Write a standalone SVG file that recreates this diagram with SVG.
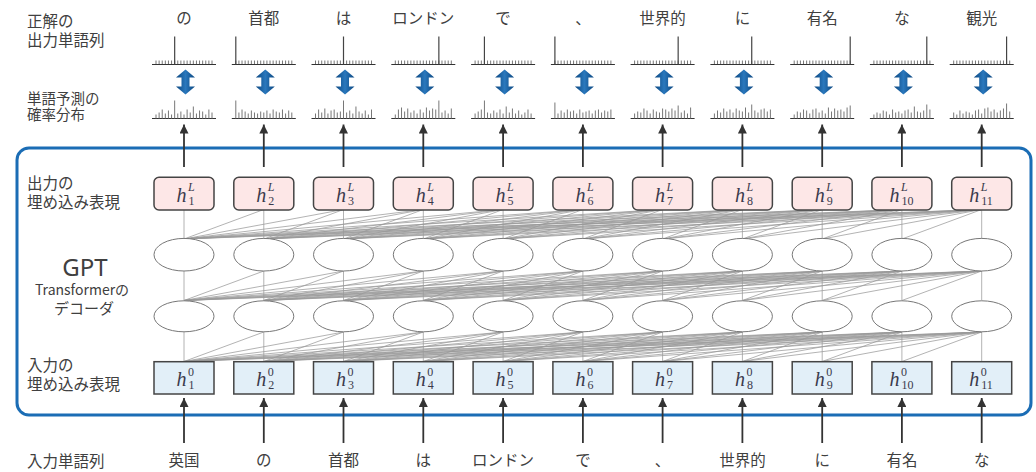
<svg xmlns="http://www.w3.org/2000/svg" xmlns:xlink="http://www.w3.org/1999/xlink" width="1036" height="472" viewBox="0 0 1036 472">
<style>
.lbl{font-family:"Noto Sans CJK JP","Noto Sans",sans-serif;font-size:15.5px;fill:#404040}
.lbs{font-family:"Noto Sans CJK JP","Noto Sans",sans-serif;font-size:14.5px;fill:#404040}
.w{font-family:"Noto Sans CJK JP","Noto Sans",sans-serif;font-size:15.5px;fill:#404040;text-anchor:middle}
.hv{font-family:"Liberation Serif",serif;font-style:italic;font-size:20px;fill:#3a3a4c}
.sc{font-family:"Liberation Serif",serif;font-style:normal;font-size:12px;fill:#3a3a4c}
.sci{font-family:"Liberation Serif",serif;font-style:italic;font-size:12px;fill:#3a3a4c}
.bo{fill:#fde7e7;stroke:#444;stroke-width:1.5}
.bi{fill:#e2eff8;stroke:#444;stroke-width:1.5}
.el{fill:#fff;stroke:#777;stroke-width:1}
.ar{stroke:#333;stroke-width:1.8;fill:none;marker-end:url(#ah)}
.tk{stroke:#777;stroke-width:1;fill:none}
.sp{stroke:#444;stroke-width:1.2}
.bl{stroke:#333;stroke-width:1.2}
.fan{stroke:#999;stroke-width:0.75;fill:none}
</style>
<defs>
<marker id="ah" markerUnits="userSpaceOnUse" markerWidth="9" markerHeight="9" viewBox="0 0 10 10" refX="10" refY="5" orient="auto"><path d="M0 0L10 5L0 10z" fill="#333"/></marker>
<linearGradient id="dg" x1="0" y1="0" x2="1" y2="0"><stop offset="0" stop-color="#0b467f"/><stop offset="0.5" stop-color="#2a78bd"/><stop offset="1" stop-color="#0b467f"/></linearGradient>
<polygon id="dbl" points="0,-12.5 9.5,-4.5 4,-4.5 4,4.5 9.5,4.5 0,12.5 -9.5,4.5 -4,4.5 -4,-4.5 -9.5,-4.5" fill="url(#dg)"/>
<path id="ticks" class="tk" d="M-28 0v-4M-24.89 0v-4M-21.78 0v-4M-18.67 0v-4M-15.56 0v-4M-12.44 0v-4M-9.33 0v-4M-6.22 0v-4M-3.11 0v-4M0 0v-4M3.11 0v-4M6.22 0v-4M9.33 0v-4M12.44 0v-4M15.56 0v-4M18.67 0v-4M21.78 0v-4M24.89 0v-4M28 0v-4"/>
<path id="base" class="bl" d="M-32 0h64"/>
<path id="fanp" class="fan" d="M184 0V29.5M263.8 0L184 29.5M263.8 0V29.5M343.5 0L184 29.5M343.5 0L263.8 29.5M343.5 0V29.5M423.3 0L184 29.5M423.3 0L263.8 29.5M423.3 0L343.5 29.5M423.3 0V29.5M503.1 0L184 29.5M503.1 0L263.8 29.5M503.1 0L343.5 29.5M503.1 0L423.3 29.5M503.1 0V29.5M582.9 0L184 29.5M582.9 0L263.8 29.5M582.9 0L343.5 29.5M582.9 0L423.3 29.5M582.9 0L503.1 29.5M582.9 0V29.5M662.6 0L184 29.5M662.6 0L263.8 29.5M662.6 0L343.5 29.5M662.6 0L423.3 29.5M662.6 0L503.1 29.5M662.6 0L582.9 29.5M662.6 0V29.5M742.4 0L184 29.5M742.4 0L263.8 29.5M742.4 0L343.5 29.5M742.4 0L423.3 29.5M742.4 0L503.1 29.5M742.4 0L582.9 29.5M742.4 0L662.6 29.5M742.4 0V29.5M822.2 0L184 29.5M822.2 0L263.8 29.5M822.2 0L343.5 29.5M822.2 0L423.3 29.5M822.2 0L503.1 29.5M822.2 0L582.9 29.5M822.2 0L662.6 29.5M822.2 0L742.4 29.5M822.2 0V29.5M901.9 0L184 29.5M901.9 0L263.8 29.5M901.9 0L343.5 29.5M901.9 0L423.3 29.5M901.9 0L503.1 29.5M901.9 0L582.9 29.5M901.9 0L662.6 29.5M901.9 0L742.4 29.5M901.9 0L822.2 29.5M901.9 0V29.5M981.7 0L184 29.5M981.7 0L263.8 29.5M981.7 0L343.5 29.5M981.7 0L423.3 29.5M981.7 0L503.1 29.5M981.7 0L582.9 29.5M981.7 0L662.6 29.5M981.7 0L742.4 29.5M981.7 0L822.2 29.5M981.7 0L901.9 29.5M981.7 0V29.5"/>
</defs>

<rect id="gpt-frame" x="17" y="148" width="1014" height="267" rx="12" fill="none" stroke="#1b6db5" stroke-width="3"/>

<g id="labels">
<text class="lbl" x="27" y="26.5">正解の</text>
<text class="lbl" x="27" y="46">出力単語列</text>
<text class="lbs" x="27" y="103.5">単語予測の</text>
<text class="lbs" x="27" y="120">確率分布</text>
<text class="lbl" x="27" y="189">出力の</text>
<text class="lbl" x="27" y="207.5">埋め込み表現</text>
<text x="85" y="276" text-anchor="middle" style="font-family:'Noto Sans','Open Sans',sans-serif;font-size:24px;fill:#404040">GPT</text>
<text x="82" y="295" text-anchor="middle" style="font-family:'Noto Sans CJK JP','Noto Sans',sans-serif;font-size:14px;fill:#404040">Transformerの</text>
<text x="84" y="314" text-anchor="middle" style="font-family:'Noto Sans CJK JP','Noto Sans',sans-serif;font-size:15px;fill:#404040">デコーダ</text>
<text class="lbl" x="27" y="371">入力の</text>
<text class="lbl" x="27" y="390">埋め込み表現</text>
<text class="lbl" x="27" y="467">入力単語列</text>
</g>

<g id="target-words">
<text class="w" x="184" y="23.5">の</text>
<text class="w" x="263.8" y="23.5">首都</text>
<text class="w" x="343.5" y="23.5">は</text>
<text class="w" x="423.3" y="23.5">ロンドン</text>
<text class="w" x="503.1" y="23.5">で</text>
<text class="w" x="582.9" y="23.5">、</text>
<text class="w" x="662.6" y="23.5">世界的</text>
<text class="w" x="742.4" y="23.5">に</text>
<text class="w" x="822.2" y="23.5">有名</text>
<text class="w" x="901.9" y="23.5">な</text>
<text class="w" x="981.7" y="23.5">観光</text>
</g>

<g id="input-words">
<text class="w" x="184" y="466">英国</text>
<text class="w" x="263.8" y="466">の</text>
<text class="w" x="343.5" y="466">首都</text>
<text class="w" x="423.3" y="466">は</text>
<text class="w" x="503.1" y="466">ロンドン</text>
<text class="w" x="582.9" y="466">で</text>
<text class="w" x="662.6" y="466">、</text>
<text class="w" x="742.4" y="466">世界的</text>
<text class="w" x="822.2" y="466">に</text>
<text class="w" x="901.9" y="466">有名</text>
<text class="w" x="981.7" y="466">な</text>
</g>

<g id="target-hists">
<g transform="translate(184,64.5)"><use href="#ticks"/><use href="#base"/><path class="sp" d="M-9.33 0V-28"/></g>
<g transform="translate(263.8,64.5)"><use href="#ticks"/><use href="#base"/><path class="sp" d="M-28 0V-28"/></g>
<g transform="translate(343.5,64.5)"><use href="#ticks"/><use href="#base"/><path class="sp" d="M0 0V-28"/></g>
<g transform="translate(423.3,64.5)"><use href="#ticks"/><use href="#base"/><path class="sp" d="M15.56 0V-28"/></g>
<g transform="translate(503.1,64.5)"><use href="#ticks"/><use href="#base"/><path class="sp" d="M-18.67 0V-28"/></g>
<g transform="translate(582.9,64.5)"><use href="#ticks"/><use href="#base"/><path class="sp" d="M-28 0V-28"/></g>
<g transform="translate(662.6,64.5)"><use href="#ticks"/><use href="#base"/><path class="sp" d="M15.56 0V-28"/></g>
<g transform="translate(742.4,64.5)"><use href="#ticks"/><use href="#base"/><path class="sp" d="M9.33 0V-28"/></g>
<g transform="translate(822.2,64.5)"><use href="#ticks"/><use href="#base"/><path class="sp" d="M28 0V-28"/></g>
<g transform="translate(901.9,64.5)"><use href="#ticks"/><use href="#base"/><path class="sp" d="M24.89 0V-28"/></g>
<g transform="translate(981.7,64.5)"><use href="#ticks"/><use href="#base"/><path class="sp" d="M24.89 0V-28"/></g>
</g>

<g id="compare-arrows">
<use href="#dbl" x="185.5" y="82"/>
<use href="#dbl" x="265.3" y="82"/>
<use href="#dbl" x="345" y="82"/>
<use href="#dbl" x="424.8" y="82"/>
<use href="#dbl" x="504.6" y="82"/>
<use href="#dbl" x="584.4" y="82"/>
<use href="#dbl" x="664.1" y="82"/>
<use href="#dbl" x="743.9" y="82"/>
<use href="#dbl" x="823.7" y="82"/>
<use href="#dbl" x="903.4" y="82"/>
<use href="#dbl" x="983.2" y="82"/>
</g>

<g id="pred-hists">
<g transform="translate(184,118.5)"><use href="#base"/><path class="tk" d="M-28 0v-4M-24.89 0v-6M-21.78 0v-9M-18.67 0v-5M-15.56 0v-8M-12.44 0v-4M-9.33 0v-18M-6.22 0v-5M-3.11 0v-7M0 0v-4M3.11 0v-9M6.22 0v-6M9.33 0v-12M12.44 0v-5M15.56 0v-8M18.67 0v-7M21.78 0v-4M24.89 0v-9M28 0v-6"/></g>
<g transform="translate(263.8,118.5)"><use href="#base"/><path class="tk" d="M-28 0v-18M-24.89 0v-6M-21.78 0v-9M-18.67 0v-7M-15.56 0v-5M-12.44 0v-8M-9.33 0v-6M-6.22 0v-5M-3.11 0v-7M0 0v-6M3.11 0v-8M6.22 0v-5M9.33 0v-9M12.44 0v-7M15.56 0v-6M18.67 0v-9M21.78 0v-5M24.89 0v-8M28 0v-6"/></g>
<g transform="translate(343.5,118.5)"><use href="#base"/><path class="tk" d="M-28 0v-5M-24.89 0v-9M-21.78 0v-6M-18.67 0v-10M-15.56 0v-5M-12.44 0v-8M-9.33 0v-9M-6.22 0v-6M-3.11 0v-7M0 0v-18M3.11 0v-6M6.22 0v-8M9.33 0v-5M12.44 0v-12M15.56 0v-7M18.67 0v-5M21.78 0v-8M24.89 0v-4M28 0v-9"/></g>
<g transform="translate(423.3,118.5)"><use href="#base"/><path class="tk" d="M-28 0v-4M-24.89 0v-9M-21.78 0v-11M-18.67 0v-7M-15.56 0v-10M-12.44 0v-6M-9.33 0v-8M-6.22 0v-5M-3.11 0v-9M0 0v-6M3.11 0v-11M6.22 0v-8M9.33 0v-10M12.44 0v-9M15.56 0v-18M18.67 0v-6M21.78 0v-8M24.89 0v-5M28 0v-10"/></g>
<g transform="translate(503.1,118.5)"><use href="#base"/><path class="tk" d="M-28 0v-5M-24.89 0v-7M-21.78 0v-9M-18.67 0v-18M-15.56 0v-6M-12.44 0v-5M-9.33 0v-8M-6.22 0v-6M-3.11 0v-9M0 0v-5M3.11 0v-12M6.22 0v-6M9.33 0v-10M12.44 0v-5M15.56 0v-8M18.67 0v-4M21.78 0v-6M24.89 0v-9M28 0v-5"/></g>
<g transform="translate(582.9,118.5)"><use href="#base"/><path class="tk" d="M-28 0v-16M-24.89 0v-5M-21.78 0v-8M-18.67 0v-6M-15.56 0v-9M-12.44 0v-7M-9.33 0v-8M-6.22 0v-5M-3.11 0v-9M0 0v-6M3.11 0v-7M6.22 0v-8M9.33 0v-5M12.44 0v-8M15.56 0v-9M18.67 0v-6M21.78 0v-8M24.89 0v-7M28 0v-9"/></g>
<g transform="translate(662.6,118.5)"><use href="#base"/><path class="tk" d="M-28 0v-5M-24.89 0v-7M-21.78 0v-6M-18.67 0v-10M-15.56 0v-8M-12.44 0v-5M-9.33 0v-9M-6.22 0v-7M-3.11 0v-6M0 0v-10M3.11 0v-9M6.22 0v-7M9.33 0v-10M12.44 0v-8M15.56 0v-13M18.67 0v-6M21.78 0v-8M24.89 0v-5M28 0v-11"/></g>
<g transform="translate(742.4,118.5)"><use href="#base"/><path class="tk" d="M-28 0v-5M-24.89 0v-8M-21.78 0v-6M-18.67 0v-10M-15.56 0v-7M-12.44 0v-9M-9.33 0v-6M-6.22 0v-10M-3.11 0v-8M0 0v-7M3.11 0v-11M6.22 0v-6M9.33 0v-14M12.44 0v-8M15.56 0v-6M18.67 0v-9M21.78 0v-10M24.89 0v-7M28 0v-9"/></g>
<g transform="translate(822.2,118.5)"><use href="#base"/><path class="tk" d="M-28 0v-4M-24.89 0v-7M-21.78 0v-6M-18.67 0v-9M-15.56 0v-8M-12.44 0v-5M-9.33 0v-9M-6.22 0v-10M-3.11 0v-6M0 0v-8M3.11 0v-5M6.22 0v-11M9.33 0v-7M12.44 0v-10M15.56 0v-8M18.67 0v-9M21.78 0v-7M24.89 0v-11M28 0v-13"/></g>
<g transform="translate(901.9,118.5)"><use href="#base"/><path class="tk" d="M-28 0v-4M-24.89 0v-6M-21.78 0v-5M-18.67 0v-8M-15.56 0v-7M-12.44 0v-4M-9.33 0v-9M-6.22 0v-6M-3.11 0v-7M0 0v-5M3.11 0v-8M6.22 0v-9M9.33 0v-6M12.44 0v-12M15.56 0v-7M18.67 0v-6M21.78 0v-8M24.89 0v-14M28 0v-9"/></g>
<g transform="translate(981.7,118.5)"><use href="#base"/><path class="tk" d="M-28 0v-6M-24.89 0v-4M-21.78 0v-8M-18.67 0v-5M-15.56 0v-7M-12.44 0v-6M-9.33 0v-4M-6.22 0v-8M-3.11 0v-9M0 0v-5M3.11 0v-10M6.22 0v-11M9.33 0v-7M12.44 0v-9M15.56 0v-6M18.67 0v-8M21.78 0v-10M24.89 0v-15M28 0v-7"/></g>
</g>

<g id="connectors">
<use href="#fanp" transform="translate(0,209.5)"/>
<use href="#fanp" transform="translate(0,271)"/>
<use href="#fanp" transform="translate(0,332)"/>
<line class="ar" x1="184" y1="167" x2="184" y2="124.5"/>
<line class="ar" x1="263.8" y1="167" x2="263.8" y2="124.5"/>
<line class="ar" x1="343.5" y1="167" x2="343.5" y2="124.5"/>
<line class="ar" x1="423.3" y1="167" x2="423.3" y2="124.5"/>
<line class="ar" x1="503.1" y1="167" x2="503.1" y2="124.5"/>
<line class="ar" x1="582.9" y1="167" x2="582.9" y2="124.5"/>
<line class="ar" x1="662.6" y1="167" x2="662.6" y2="124.5"/>
<line class="ar" x1="742.4" y1="167" x2="742.4" y2="124.5"/>
<line class="ar" x1="822.2" y1="167" x2="822.2" y2="124.5"/>
<line class="ar" x1="901.9" y1="167" x2="901.9" y2="124.5"/>
<line class="ar" x1="981.7" y1="167" x2="981.7" y2="124.5"/>
<line class="ar" x1="184" y1="443" x2="184" y2="398"/>
<line class="ar" x1="263.8" y1="443" x2="263.8" y2="398"/>
<line class="ar" x1="343.5" y1="443" x2="343.5" y2="398"/>
<line class="ar" x1="423.3" y1="443" x2="423.3" y2="398"/>
<line class="ar" x1="503.1" y1="443" x2="503.1" y2="398"/>
<line class="ar" x1="582.9" y1="443" x2="582.9" y2="398"/>
<line class="ar" x1="662.6" y1="443" x2="662.6" y2="398"/>
<line class="ar" x1="742.4" y1="443" x2="742.4" y2="398"/>
<line class="ar" x1="822.2" y1="443" x2="822.2" y2="398"/>
<line class="ar" x1="901.9" y1="443" x2="901.9" y2="398"/>
<line class="ar" x1="981.7" y1="443" x2="981.7" y2="398"/>
</g>

<g id="layer2">
<g id="l2-1"><ellipse class="el" cx="184" cy="254.7" rx="30" ry="16.3"/></g>
<g id="l2-2"><ellipse class="el" cx="263.8" cy="254.7" rx="30" ry="16.3"/></g>
<g id="l2-3"><ellipse class="el" cx="343.5" cy="254.7" rx="30" ry="16.3"/></g>
<g id="l2-4"><ellipse class="el" cx="423.3" cy="254.7" rx="30" ry="16.3"/></g>
<g id="l2-5"><ellipse class="el" cx="503.1" cy="254.7" rx="30" ry="16.3"/></g>
<g id="l2-6"><ellipse class="el" cx="582.9" cy="254.7" rx="30" ry="16.3"/></g>
<g id="l2-7"><ellipse class="el" cx="662.6" cy="254.7" rx="30" ry="16.3"/></g>
<g id="l2-8"><ellipse class="el" cx="742.4" cy="254.7" rx="30" ry="16.3"/></g>
<g id="l2-9"><ellipse class="el" cx="822.2" cy="254.7" rx="30" ry="16.3"/></g>
<g id="l2-10"><ellipse class="el" cx="901.9" cy="254.7" rx="30" ry="16.3"/></g>
<g id="l2-11"><ellipse class="el" cx="981.7" cy="254.7" rx="30" ry="16.3"/></g>
</g>
<g id="layer1">
<g id="l1-1"><ellipse class="el" cx="184" cy="316.3" rx="30" ry="15.5"/></g>
<g id="l1-2"><ellipse class="el" cx="263.8" cy="316.3" rx="30" ry="15.5"/></g>
<g id="l1-3"><ellipse class="el" cx="343.5" cy="316.3" rx="30" ry="15.5"/></g>
<g id="l1-4"><ellipse class="el" cx="423.3" cy="316.3" rx="30" ry="15.5"/></g>
<g id="l1-5"><ellipse class="el" cx="503.1" cy="316.3" rx="30" ry="15.5"/></g>
<g id="l1-6"><ellipse class="el" cx="582.9" cy="316.3" rx="30" ry="15.5"/></g>
<g id="l1-7"><ellipse class="el" cx="662.6" cy="316.3" rx="30" ry="15.5"/></g>
<g id="l1-8"><ellipse class="el" cx="742.4" cy="316.3" rx="30" ry="15.5"/></g>
<g id="l1-9"><ellipse class="el" cx="822.2" cy="316.3" rx="30" ry="15.5"/></g>
<g id="l1-10"><ellipse class="el" cx="901.9" cy="316.3" rx="30" ry="15.5"/></g>
<g id="l1-11"><ellipse class="el" cx="981.7" cy="316.3" rx="30" ry="15.5"/></g>
</g>

<g id="outputs">
<g id="hL1"><rect class="bo" x="154" y="177.3" width="60" height="32.7" rx="5"/><text class="hv" x="176.5" y="201.5">h<tspan class="sci" x="188" y="191">L</tspan><tspan class="sc" x="188.5" y="204.5">1</tspan></text></g>
<g id="hL2"><rect class="bo" x="233.8" y="177.3" width="60" height="32.7" rx="5"/><text class="hv" x="256.3" y="201.5">h<tspan class="sci" x="267.8" y="191">L</tspan><tspan class="sc" x="268.3" y="204.5">2</tspan></text></g>
<g id="hL3"><rect class="bo" x="313.5" y="177.3" width="60" height="32.7" rx="5"/><text class="hv" x="336" y="201.5">h<tspan class="sci" x="347.5" y="191">L</tspan><tspan class="sc" x="348" y="204.5">3</tspan></text></g>
<g id="hL4"><rect class="bo" x="393.3" y="177.3" width="60" height="32.7" rx="5"/><text class="hv" x="415.8" y="201.5">h<tspan class="sci" x="427.3" y="191">L</tspan><tspan class="sc" x="427.8" y="204.5">4</tspan></text></g>
<g id="hL5"><rect class="bo" x="473.1" y="177.3" width="60" height="32.7" rx="5"/><text class="hv" x="495.6" y="201.5">h<tspan class="sci" x="507.1" y="191">L</tspan><tspan class="sc" x="507.6" y="204.5">5</tspan></text></g>
<g id="hL6"><rect class="bo" x="552.9" y="177.3" width="60" height="32.7" rx="5"/><text class="hv" x="575.4" y="201.5">h<tspan class="sci" x="586.9" y="191">L</tspan><tspan class="sc" x="587.4" y="204.5">6</tspan></text></g>
<g id="hL7"><rect class="bo" x="632.6" y="177.3" width="60" height="32.7" rx="5"/><text class="hv" x="655.1" y="201.5">h<tspan class="sci" x="666.6" y="191">L</tspan><tspan class="sc" x="667.1" y="204.5">7</tspan></text></g>
<g id="hL8"><rect class="bo" x="712.4" y="177.3" width="60" height="32.7" rx="5"/><text class="hv" x="734.9" y="201.5">h<tspan class="sci" x="746.4" y="191">L</tspan><tspan class="sc" x="746.9" y="204.5">8</tspan></text></g>
<g id="hL9"><rect class="bo" x="792.2" y="177.3" width="60" height="32.7" rx="5"/><text class="hv" x="814.7" y="201.5">h<tspan class="sci" x="826.2" y="191">L</tspan><tspan class="sc" x="826.7" y="204.5">9</tspan></text></g>
<g id="hL10"><rect class="bo" x="871.9" y="177.3" width="60" height="32.7" rx="5"/><text class="hv" x="889.5" y="201.5">h<tspan class="sci" x="901" y="191">L</tspan><tspan class="sc" x="901.5" y="204.5">10</tspan></text></g>
<g id="hL11"><rect class="bo" x="951.7" y="177.3" width="60" height="32.7" rx="5"/><text class="hv" x="969.3" y="201.5">h<tspan class="sci" x="980.8" y="191">L</tspan><tspan class="sc" x="981.3" y="204.5">11</tspan></text></g>
</g>

<g id="inputs">
<g id="h01"><rect class="bi" x="154" y="361.7" width="60" height="32.3"/><text class="hv" x="176.5" y="386">h<tspan class="sc" x="188" y="375.5">0</tspan><tspan class="sc" x="188.5" y="389">1</tspan></text></g>
<g id="h02"><rect class="bi" x="233.8" y="361.7" width="60" height="32.3"/><text class="hv" x="256.3" y="386">h<tspan class="sc" x="267.8" y="375.5">0</tspan><tspan class="sc" x="268.3" y="389">2</tspan></text></g>
<g id="h03"><rect class="bi" x="313.5" y="361.7" width="60" height="32.3"/><text class="hv" x="336" y="386">h<tspan class="sc" x="347.5" y="375.5">0</tspan><tspan class="sc" x="348" y="389">3</tspan></text></g>
<g id="h04"><rect class="bi" x="393.3" y="361.7" width="60" height="32.3"/><text class="hv" x="415.8" y="386">h<tspan class="sc" x="427.3" y="375.5">0</tspan><tspan class="sc" x="427.8" y="389">4</tspan></text></g>
<g id="h05"><rect class="bi" x="473.1" y="361.7" width="60" height="32.3"/><text class="hv" x="495.6" y="386">h<tspan class="sc" x="507.1" y="375.5">0</tspan><tspan class="sc" x="507.6" y="389">5</tspan></text></g>
<g id="h06"><rect class="bi" x="552.9" y="361.7" width="60" height="32.3"/><text class="hv" x="575.4" y="386">h<tspan class="sc" x="586.9" y="375.5">0</tspan><tspan class="sc" x="587.4" y="389">6</tspan></text></g>
<g id="h07"><rect class="bi" x="632.6" y="361.7" width="60" height="32.3"/><text class="hv" x="655.1" y="386">h<tspan class="sc" x="666.6" y="375.5">0</tspan><tspan class="sc" x="667.1" y="389">7</tspan></text></g>
<g id="h08"><rect class="bi" x="712.4" y="361.7" width="60" height="32.3"/><text class="hv" x="734.9" y="386">h<tspan class="sc" x="746.4" y="375.5">0</tspan><tspan class="sc" x="746.9" y="389">8</tspan></text></g>
<g id="h09"><rect class="bi" x="792.2" y="361.7" width="60" height="32.3"/><text class="hv" x="814.7" y="386">h<tspan class="sc" x="826.2" y="375.5">0</tspan><tspan class="sc" x="826.7" y="389">9</tspan></text></g>
<g id="h010"><rect class="bi" x="871.9" y="361.7" width="60" height="32.3"/><text class="hv" x="889.5" y="386">h<tspan class="sc" x="901" y="375.5">0</tspan><tspan class="sc" x="901.5" y="389">10</tspan></text></g>
<g id="h011"><rect class="bi" x="951.7" y="361.7" width="60" height="32.3"/><text class="hv" x="969.3" y="386">h<tspan class="sc" x="980.8" y="375.5">0</tspan><tspan class="sc" x="981.3" y="389">11</tspan></text></g>
</g>
</svg>
